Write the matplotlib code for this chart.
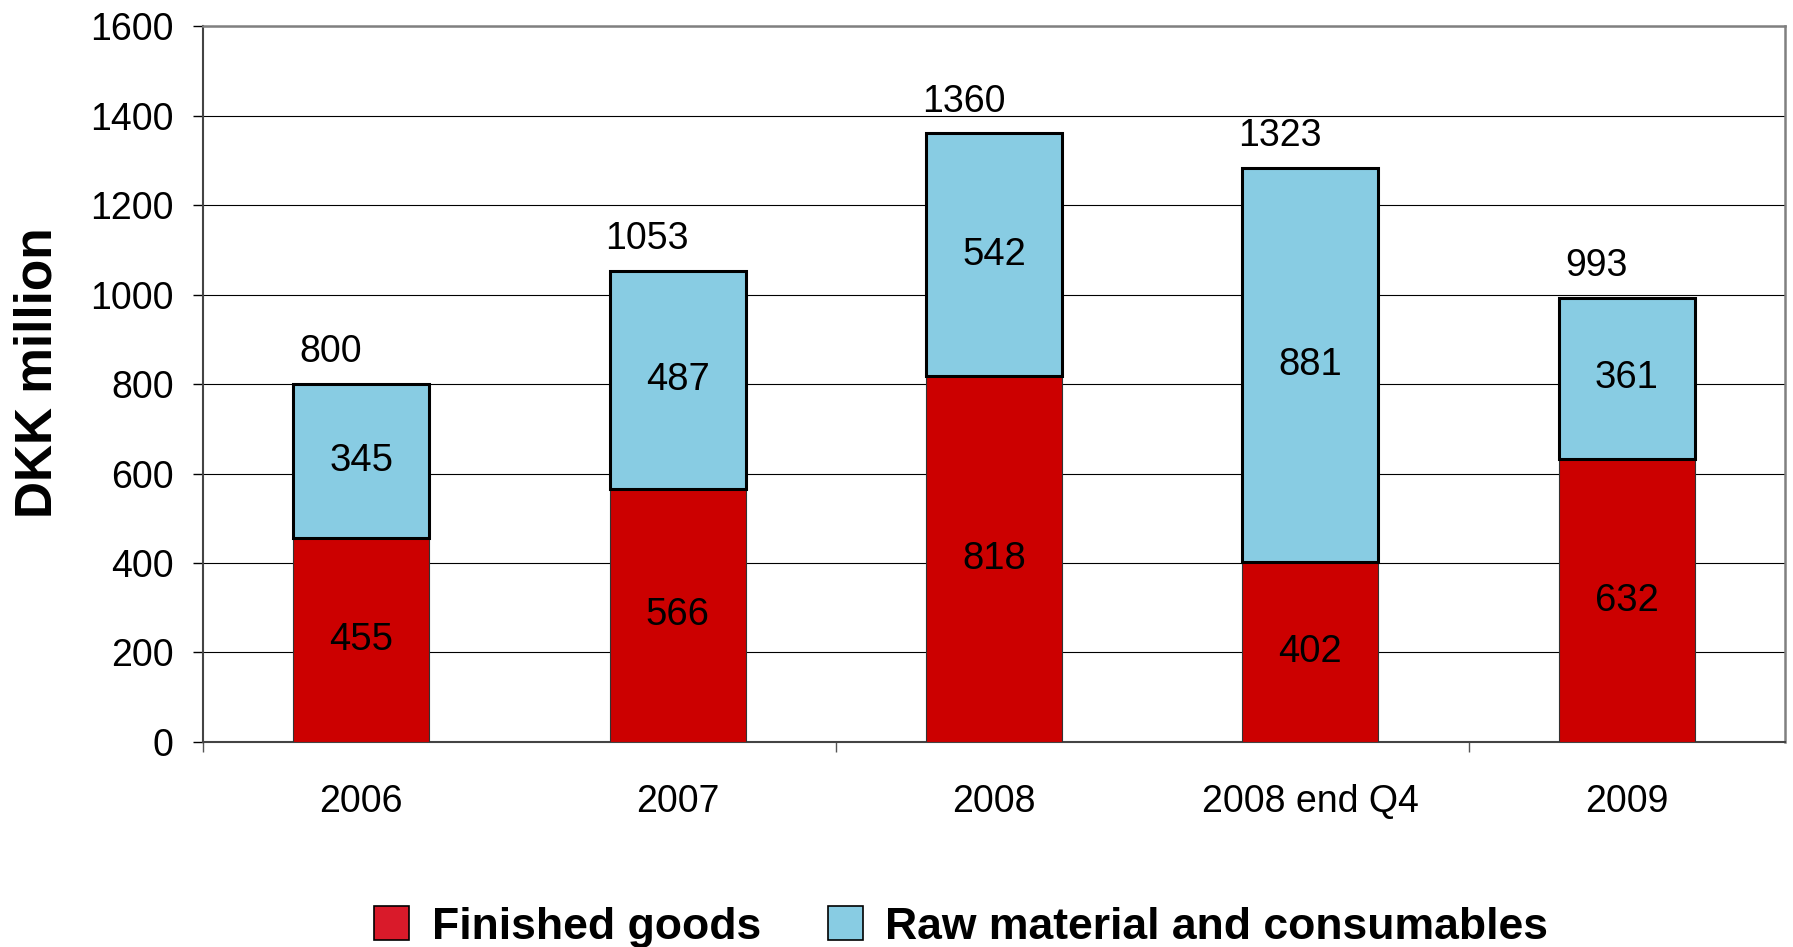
import matplotlib
matplotlib.use("Agg")
import matplotlib.pyplot as plt
from matplotlib.patches import Patch

categories = ["2006", "2007", "2008", "2008 end Q4", "2009"]
finished_goods = [455, 566, 818, 402, 632]
raw_material = [345, 487, 542, 881, 361]
total_labels = [800, 1053, 1360, 1323, 993]
y_ticks = [0, 200, 400, 600, 800, 1000, 1200, 1400, 1600]

RED = "#CC0000"
BLUE = "#88CCE3"
LEG_RED = "#D91A2A"

plt.rcParams["font.family"] = ["Liberation Sans", "DejaVu Sans"]

fig = plt.figure(figsize=(17.93, 9.47), dpi=100)
ax = fig.add_axes([0.1132, 0.2165, 0.8823, 0.756])

x = list(range(len(categories)))
w = 0.43
ax.bar(x, finished_goods, width=w, color=RED, edgecolor="#333333", linewidth=0.8, zorder=3)
ax.bar(x, raw_material, width=w, bottom=finished_goods, color=BLUE, edgecolor="black",
       linewidth=2.2, zorder=4)

for i in x:
    fg = finished_goods[i]
    rm = raw_material[i]
    ax.text(i, fg / 2, str(fg), ha="center", va="center", fontsize=27.5, zorder=5)
    ax.text(i, fg + rm / 2, str(rm), ha="center", va="center", fontsize=27.5, zorder=5)
    ax.annotate(str(total_labels[i]), (i, fg + rm), xytext=(-22, 10),
                textcoords="offset points", ha="center", va="bottom", fontsize=27)

ax.set_xlim(-0.5, len(categories) - 0.5)
ax.set_ylim(0, 1600)
ax.set_yticks(y_ticks)
ax.set_yticklabels([str(v) for v in y_ticks], fontsize=27)
ax.tick_params(axis="y", length=7, width=1, pad=14, color="black")

ax.set_xticks([-0.5, 1.5, 3.5])
ax.set_xticklabels([])
ax.tick_params(axis="x", which="major", length=7, width=1, direction="out", color="#555555")
ax.set_xticks(x, minor=True)
ax.set_xticklabels(categories, minor=True, fontsize=27)
ax.tick_params(axis="x", which="minor", length=0, pad=30)

ax.yaxis.grid(True, color="black", linewidth=0.8, zorder=0)
ax.set_axisbelow(True)

for s in ["top", "right"]:
    ax.spines[s].set_color("#808080")
    ax.spines[s].set_linewidth(1.8)
for s in ["left", "bottom"]:
    ax.spines[s].set_color("#444444")
    ax.spines[s].set_linewidth(1.5)

fig.text(0.021, 0.606, "DKK million", rotation=90, ha="center", va="center",
         fontsize=37, fontweight="bold")

handles = [Patch(facecolor=LEG_RED, edgecolor="black", linewidth=1.2),
           Patch(facecolor=BLUE, edgecolor="black", linewidth=1.2)]
fig.legend(handles, ["Finished goods", "Raw material and consumables"],
           loc="center", bbox_to_anchor=(0.536, 0.021), ncol=2, frameon=False,
           prop={"weight": "bold", "size": 32}, handlelength=0.8, handleheight=0.8,
           handletextpad=0.5, columnspacing=1.5)

fig.savefig("out.png", dpi=100)
